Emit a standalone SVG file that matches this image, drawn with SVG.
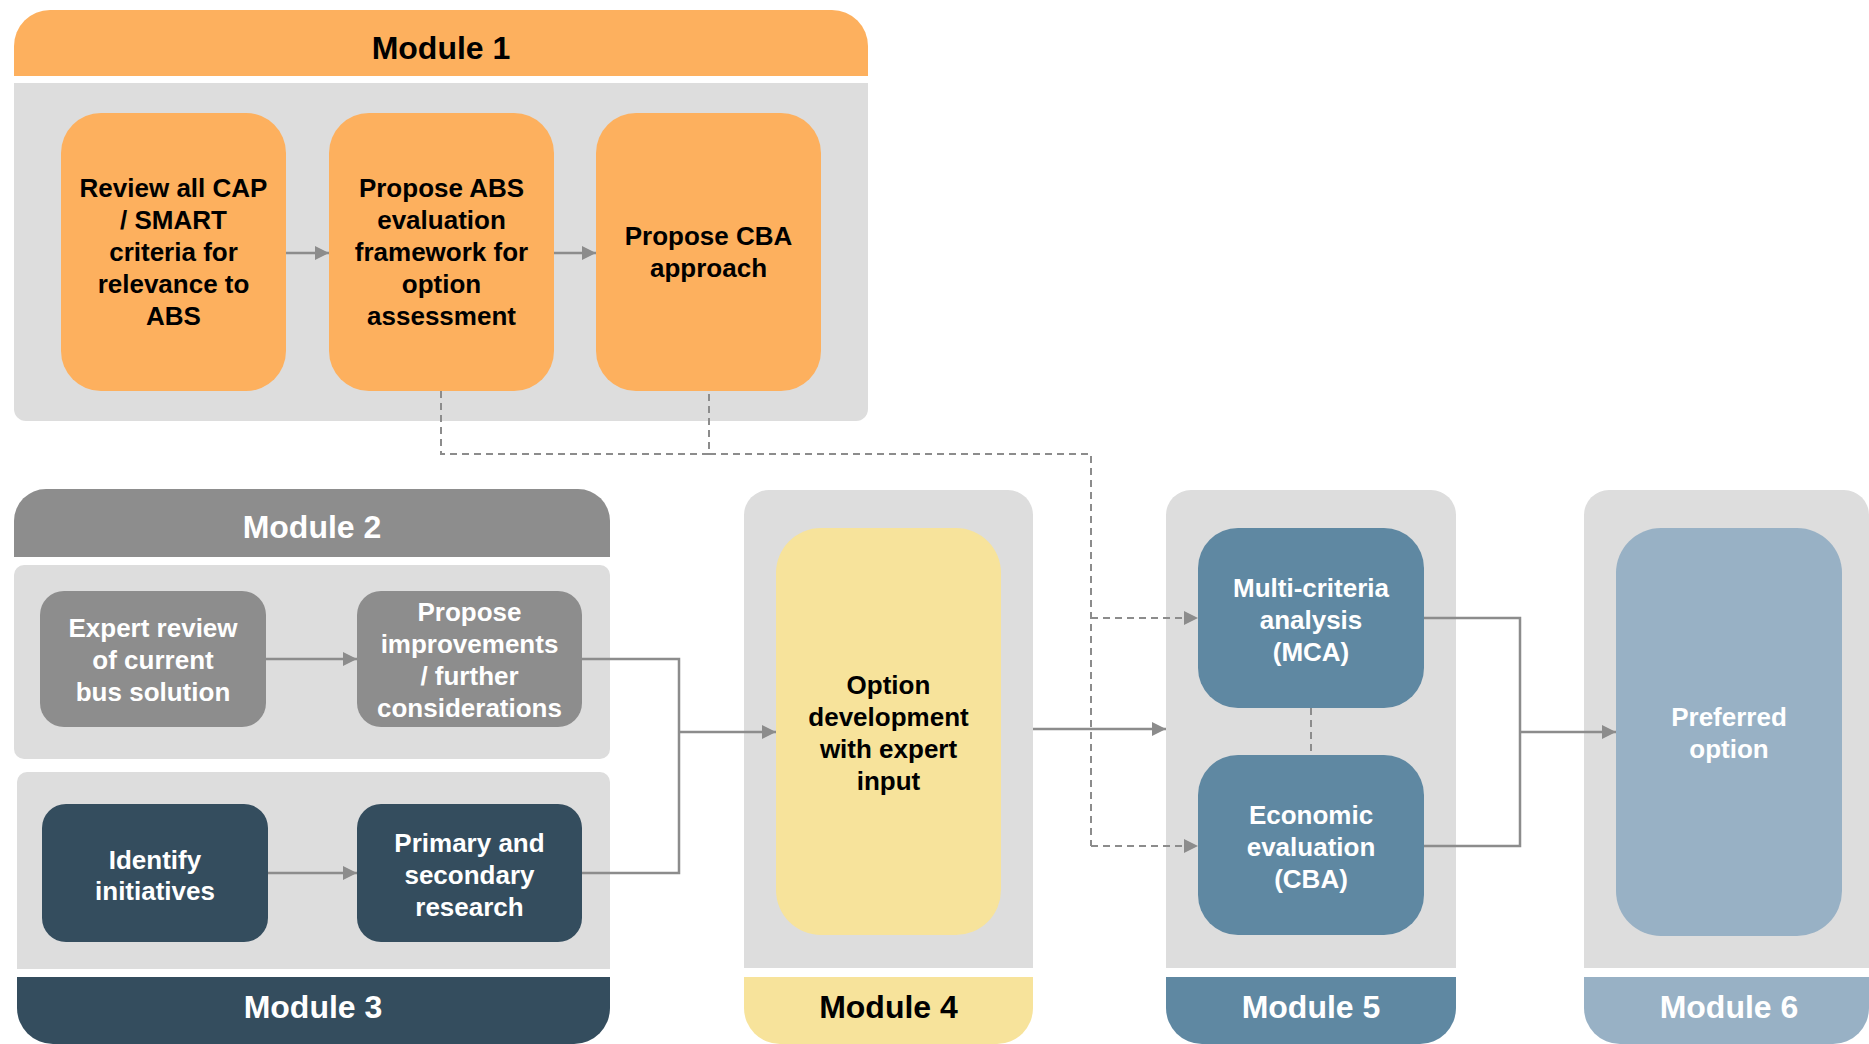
<svg xmlns="http://www.w3.org/2000/svg" width="1869" height="1044" viewBox="0 0 1869 1044">
<style>
text{font-family:"Liberation Sans",Arial,sans-serif;font-weight:bold;text-anchor:middle}
.t{font-size:26px}
.h{font-size:32px}
.blk{fill:#000}
.wht{fill:#fff}
.body{fill:#dddddd}
.orange{fill:#fdb05e}
.grey{fill:#8d8d8d}
.dark{fill:#344d5e}
.yellow{fill:#f7e39b}
.blue{fill:#5f88a2}
.lblue{fill:#98b1c5}
.c{fill:none;stroke:#8c8c8c;stroke-width:2.5}
.d{fill:none;stroke:#8c8c8c;stroke-width:2;stroke-dasharray:7 5}
</style>
<defs>
<marker id="ah" markerUnits="userSpaceOnUse" markerWidth="16" markerHeight="16" refX="14" refY="7" orient="auto">
<path d="M0,0 L14,7 L0,14 Z" fill="#8c8c8c"/>
</marker>
</defs>

<g id="module1">
<path class="orange" d="M14,76 V46 A36,36 0 0 1 50,10 H832 A36,36 0 0 1 868,46 V76 Z"/>
<text class="h blk" x="441" y="59">Module 1</text>
<path class="body" d="M14,83 H868 V409 A12,12 0 0 1 856,421 H26 A12,12 0 0 1 14,409 Z"/>
</g>
<g id="m1-review">
<rect class="orange" x="61" y="113" width="225" height="278" rx="40"/>
<text class="t blk" x="173.5" y="197">Review all CAP</text>
<text class="t blk" x="173.5" y="229">/ SMART</text>
<text class="t blk" x="173.5" y="261">criteria for</text>
<text class="t blk" x="173.5" y="293">relevance to</text>
<text class="t blk" x="173.5" y="325">ABS</text>
</g>
<g id="m1-abs">
<rect class="orange" x="329" y="113" width="225" height="278" rx="40"/>
<text class="t blk" x="441.5" y="197">Propose ABS</text>
<text class="t blk" x="441.5" y="229">evaluation</text>
<text class="t blk" x="441.5" y="261">framework for</text>
<text class="t blk" x="441.5" y="293">option</text>
<text class="t blk" x="441.5" y="325">assessment</text>
</g>
<g id="m1-cba">
<rect class="orange" x="596" y="113" width="225" height="278" rx="40"/>
<text class="t blk" x="708.5" y="245">Propose CBA</text>
<text class="t blk" x="708.5" y="277">approach</text>
</g>

<g id="module2">
<path class="grey" d="M14,557 V521 A32,32 0 0 1 46,489 H578 A32,32 0 0 1 610,521 V557 Z"/>
<text class="h wht" x="312" y="538">Module 2</text>
<rect class="body" x="14" y="565" width="596" height="194" rx="10"/>
</g>
<g id="m2-expert">
<rect class="grey" x="40" y="591" width="226" height="136" rx="24"/>
<text class="t wht" x="153" y="637">Expert review</text>
<text class="t wht" x="153" y="669">of current</text>
<text class="t wht" x="153" y="701">bus solution</text>
</g>
<g id="m2-propose">
<rect class="grey" x="357" y="591" width="225" height="136" rx="24"/>
<text class="t wht" x="469.5" y="621">Propose</text>
<text class="t wht" x="469.5" y="653">improvements</text>
<text class="t wht" x="469.5" y="685">/ further</text>
<text class="t wht" x="469.5" y="717">considerations</text>
</g>

<g id="module3">
<path class="body" d="M17,969 V782 A10,10 0 0 1 27,772 H600 A10,10 0 0 1 610,782 V969 Z"/>
<path class="dark" d="M17,977 H610 V1008 A36,36 0 0 1 574,1044 H53 A36,36 0 0 1 17,1008 Z"/>
<text class="h wht" x="313" y="1018">Module 3</text>
</g>
<g id="m3-identify">
<rect class="dark" x="42" y="804" width="226" height="138" rx="24"/>
<text class="t wht" x="155" y="869">Identify</text>
<text class="t wht" x="155" y="900">initiatives</text>
</g>
<g id="m3-research">
<rect class="dark" x="357" y="804" width="225" height="138" rx="24"/>
<text class="t wht" x="469.5" y="852">Primary and</text>
<text class="t wht" x="469.5" y="884">secondary</text>
<text class="t wht" x="469.5" y="916">research</text>
</g>

<g id="module4">
<path class="body" d="M744,968 V515 A25,25 0 0 1 769,490 H1008 A25,25 0 0 1 1033,515 V968 Z"/>
<path class="yellow" d="M744,977 H1033 V1008 A36,36 0 0 1 997,1044 H780 A36,36 0 0 1 744,1008 Z"/>
<text class="h blk" x="888.5" y="1018">Module 4</text>
</g>
<g id="m4-option">
<rect class="yellow" x="776" y="528" width="225" height="407" rx="45"/>
<text class="t blk" x="888.5" y="694">Option</text>
<text class="t blk" x="888.5" y="726">development</text>
<text class="t blk" x="888.5" y="758">with expert</text>
<text class="t blk" x="888.5" y="790">input</text>
</g>

<g id="module5">
<path class="body" d="M1166,968 V515 A25,25 0 0 1 1191,490 H1431 A25,25 0 0 1 1456,515 V968 Z"/>
<path class="blue" d="M1166,977 H1456 V1008 A36,36 0 0 1 1420,1044 H1202 A36,36 0 0 1 1166,1008 Z"/>
<text class="h wht" x="1311" y="1018">Module 5</text>
</g>
<g id="m5-mca">
<rect class="blue" x="1198" y="528" width="226" height="180" rx="40"/>
<text class="t wht" x="1311" y="597">Multi-criteria</text>
<text class="t wht" x="1311" y="629">analysis</text>
<text class="t wht" x="1311" y="661">(MCA)</text>
</g>
<g id="m5-cba">
<rect class="blue" x="1198" y="755" width="226" height="180" rx="40"/>
<text class="t wht" x="1311" y="824">Economic</text>
<text class="t wht" x="1311" y="856">evaluation</text>
<text class="t wht" x="1311" y="888">(CBA)</text>
</g>

<g id="module6">
<path class="body" d="M1584,968 V515 A25,25 0 0 1 1609,490 H1844 A25,25 0 0 1 1869,515 V968 Z"/>
<path class="lblue" d="M1584,977 H1869 V1008 A36,36 0 0 1 1833,1044 H1620 A36,36 0 0 1 1584,1008 Z"/>
<text class="h wht" x="1729" y="1018">Module 6</text>
</g>
<g id="m6-preferred">
<rect class="lblue" x="1616" y="528" width="226" height="408" rx="45"/>
<text class="t wht" x="1729" y="726">Preferred</text>
<text class="t wht" x="1729" y="758">option</text>
</g>

<g id="connectors">
<line class="c" x1="286" y1="253" x2="329" y2="253" marker-end="url(#ah)"/>
<line class="c" x1="554" y1="253" x2="596" y2="253" marker-end="url(#ah)"/>
<line class="c" x1="266" y1="659" x2="357" y2="659" marker-end="url(#ah)"/>
<line class="c" x1="268" y1="873" x2="357" y2="873" marker-end="url(#ah)"/>
<polyline class="c" points="582,659 679,659 679,873 582,873"/>
<line class="c" x1="679" y1="732" x2="776" y2="732" marker-end="url(#ah)"/>
<line class="c" x1="1033" y1="729" x2="1166" y2="729" marker-end="url(#ah)"/>
<polyline class="c" points="1424,618 1520,618 1520,846 1424,846"/>
<line class="c" x1="1520" y1="732" x2="1616" y2="732" marker-end="url(#ah)"/>
<polyline class="d" points="441,391 441,454 709,454 709,391"/>
<polyline class="d" points="709,454 1091,454 1091,846"/>
<line class="d" x1="1091" y1="618" x2="1198" y2="618" marker-end="url(#ah)"/>
<line class="d" x1="1091" y1="846" x2="1198" y2="846" marker-end="url(#ah)"/>
<line class="d" x1="1311" y1="708" x2="1311" y2="755"/>
</g>
</svg>
